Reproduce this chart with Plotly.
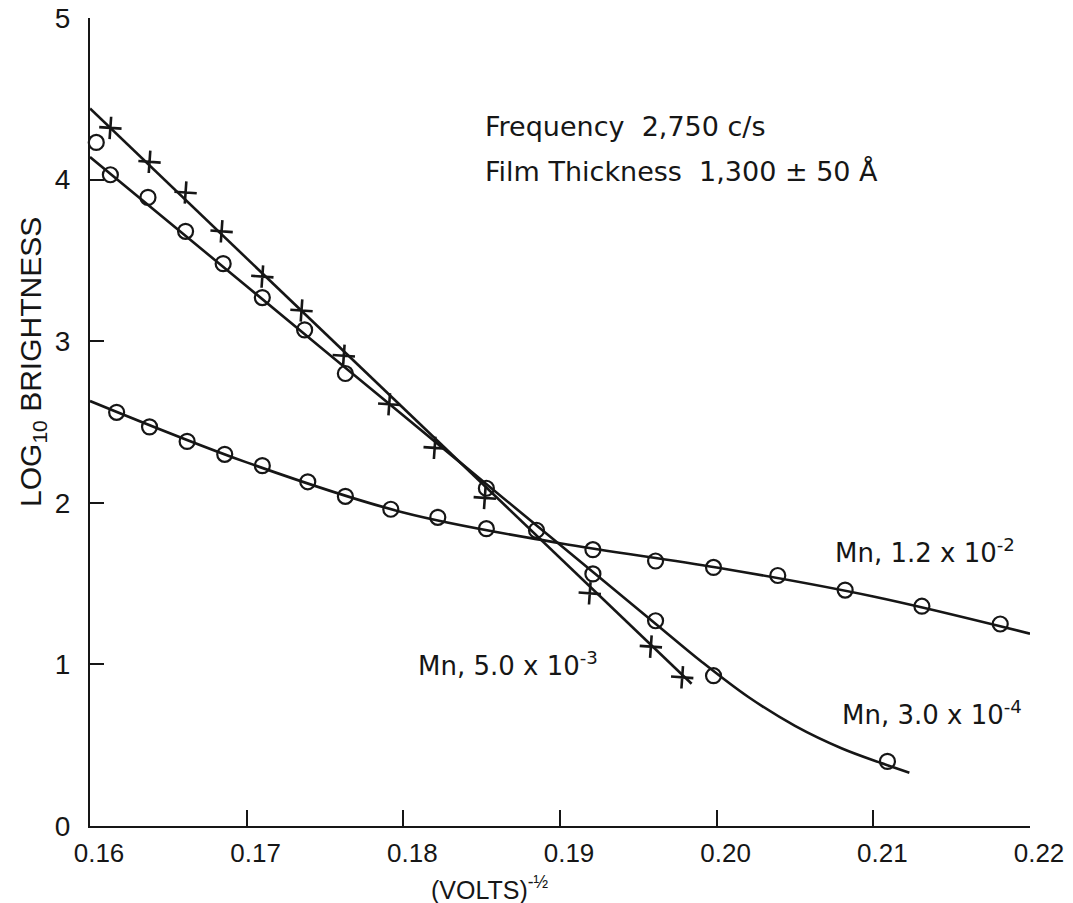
import plotly.graph_objects as go

# Mn 5.0e-3 (crosses)
x_mn5e3 = [0.1613, 0.1638, 0.1661, 0.1684, 0.1710, 0.1735, 0.1762, 0.1791, 0.1820, 0.1852, 0.1919, 0.1958, 0.1978]
y_mn5e3 = [4.32, 4.11, 3.92, 3.68, 3.40, 3.19, 2.91, 2.61, 2.34, 2.03, 1.44, 1.11, 0.92]
fit_x_mn5e3 = [0.1600, 0.1984]
fit_y_mn5e3 = [4.44, 0.88]

# Mn 3.0e-4 (circles, steep)
x_mn3e4 = [0.1604, 0.1613, 0.1637, 0.1661, 0.1685, 0.1710, 0.1737, 0.1763, 0.1853, 0.1885, 0.1921, 0.1961, 0.1998, 0.2109]
y_mn3e4 = [4.23, 4.03, 3.89, 3.68, 3.48, 3.27, 3.07, 2.80, 2.09, 1.83, 1.56, 1.27, 0.93, 0.40]
fit_x_mn3e4 = [0.1600, 0.1700, 0.1800, 0.1900, 0.1960, 0.1990, 0.2020, 0.2050, 0.2080, 0.2105, 0.2123]
fit_y_mn3e4 = [4.14, 3.34, 2.54, 1.74, 1.26, 1.02, 0.80, 0.62, 0.48, 0.39, 0.33]

# Mn 1.2e-2 (circles, shallow)
x_mn12e3 = [0.1617, 0.1638, 0.1662, 0.1686, 0.1710, 0.1739, 0.1763, 0.1792, 0.1822, 0.1853,
            0.1921, 0.1961, 0.1998, 0.2039, 0.2082, 0.2131, 0.2181]
y_mn12e3 = [2.56, 2.47, 2.38, 2.30, 2.23, 2.13, 2.04, 1.96, 1.91, 1.84,
            1.71, 1.64, 1.60, 1.55, 1.46, 1.36, 1.25]
fit_x_mn12e3 = [0.1600, 0.1700, 0.1800, 0.1900, 0.2000, 0.2100, 0.2200]
fit_y_mn12e3 = [2.63, 2.25, 1.94, 1.75, 1.60, 1.42, 1.19]

x_ticks = [0.16, 0.17, 0.18, 0.19, 0.20, 0.21, 0.22]
x_tick_text = ["0.16", "0.17", "0.18", "0.19", "0.20", "0.21", "0.22"]
y_ticks = [0, 1, 2, 3, 4, 5]

FONT = "Liberation Sans, Arial, sans-serif"
INK = "#161616"

fig = go.Figure()

line_style = dict(color=INK, width=2.6)
circle_marker = dict(symbol="circle-open", size=15, color=INK, line=dict(width=2.2, color=INK))

fig.add_trace(go.Scatter(x=fit_x_mn12e3, y=fit_y_mn12e3, mode="lines",
                         line=dict(shape="spline", smoothing=1.0, **line_style), cliponaxis=False))
fig.add_trace(go.Scatter(x=fit_x_mn3e4, y=fit_y_mn3e4, mode="lines",
                         line=dict(shape="spline", smoothing=1.0, **line_style), cliponaxis=False))
fig.add_trace(go.Scatter(x=fit_x_mn5e3, y=fit_y_mn5e3, mode="lines",
                         line=line_style, cliponaxis=False))

fig.add_trace(go.Scatter(x=x_mn12e3, y=y_mn12e3, mode="markers", marker=circle_marker, cliponaxis=False))
fig.add_trace(go.Scatter(x=x_mn3e4, y=y_mn3e4, mode="markers", marker=circle_marker, cliponaxis=False))
fig.add_trace(go.Scatter(x=x_mn5e3, y=y_mn5e3, mode="markers", cliponaxis=False,
                         marker=dict(symbol="cross-thin-open", size=16, angle=4, color=INK,
                                     line=dict(width=2.6, color=INK))))

head_font = dict(family="DejaVu Sans, sans-serif", size=27, color=INK)
label_font = dict(family="DejaVu Sans, sans-serif", size=26, color=INK)
notes = [
    (0.1851, 4.33, "Frequency  2,750 c/s", head_font),
    (0.1851, 4.05, "Film Thickness  1,300 ± 50 Å", head_font),
    (0.2074, 1.70, "Mn, 1.2 x 10<sup>-2</sup>", label_font),
    (0.1808, 1.00, "Mn, 5.0 x 10<sup>-3</sup>", label_font),
    (0.2079, 0.70, "Mn, 3.0 x 10<sup>-4</sup>", label_font),
]
for nx, ny, txt, fnt in notes:
    fig.add_annotation(x=nx, y=ny, text=txt, showarrow=False, xanchor="left", yanchor="middle",
                       font=fnt)

# axis titles
fig.add_annotation(xref="paper", yref="paper", x=-0.062, y=0.574, text="LOG<sub>10</sub> BRIGHTNESS",
                   textangle=-90, showarrow=False, xanchor="center", yanchor="middle",
                   font=dict(family=FONT, size=30, color=INK))
fig.add_annotation(xref="paper", yref="paper", x=0.4255, y=-0.077, text="(VOLTS)<sup>-½</sup>",
                   showarrow=False, xanchor="center", yanchor="middle",
                   font=dict(family=FONT, size=25, color=INK))

fig.update_xaxes(range=[0.16, 0.22], tickvals=x_ticks, ticktext=x_tick_text,
                 showgrid=False, zeroline=False, showline=True, linecolor=INK, linewidth=2,
                 ticks="inside", ticklen=16, tickwidth=2, tickcolor=INK,
                 ticklabelshift=9, ticklabelstandoff=3, automargin=False,
                 tickfont=dict(family=FONT, size=26, color=INK))
fig.update_yaxes(range=[0, 5], tickvals=y_ticks, showgrid=False, zeroline=False,
                 showline=True, linecolor=INK, linewidth=2,
                 ticks="inside", ticklen=14, tickwidth=2, tickcolor=INK,
                 ticklabelstandoff=12, automargin=False,
                 tickfont=dict(family=FONT, size=28, color=INK))

fig.update_layout(width=1073, height=903, showlegend=False,
                  margin=dict(l=90, r=43, t=18, b=77),
                  paper_bgcolor="white", plot_bgcolor="white")

fig.write_html("out.html")
